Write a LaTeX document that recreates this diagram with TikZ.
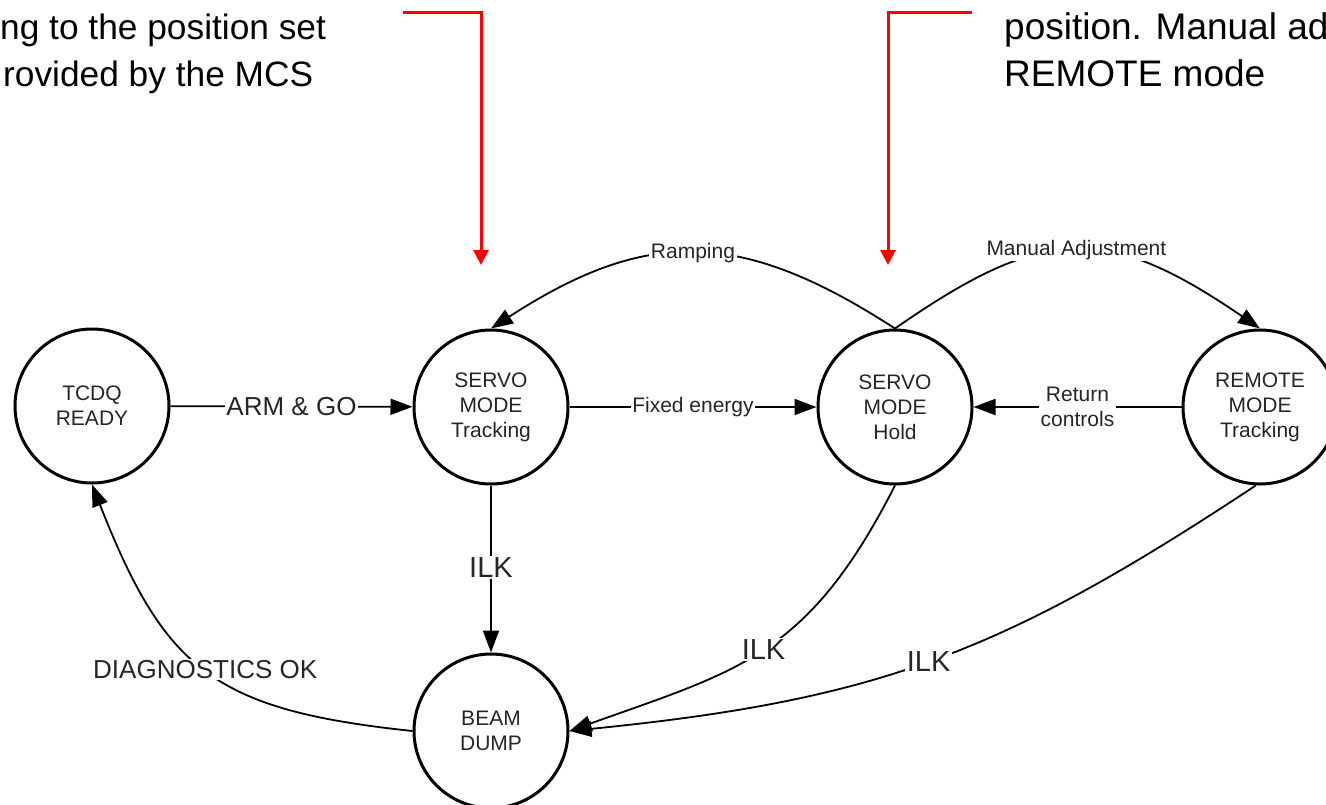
\documentclass[tikz,border=0pt]{standalone}
\usepackage{fontspec}
\setmainfont{Liberation Sans}
\usetikzlibrary{arrows.meta}
\begin{document}
\begin{tikzpicture}[x=1pt,y=-1pt,
  state/.style={circle, draw=black, line width=3pt, minimum size=154pt, inner sep=0pt,
    align=center, text=black!85, font=\fontsize{21}{25}\selectfont},
  trans/.style={draw=black, line width=1.8pt, -{Triangle[length=22pt,width=16pt]}},
  lbl/.style={fill=white, inner sep=1.5pt, text=black!85, align=center,
    font=\fontsize{21}{25}\selectfont},
  biglbl/.style={lbl, font=\fontsize{26}{30}\selectfont},
  ilklbl/.style={lbl, font=\fontsize{29}{32}\selectfont},
  note/.style={draw=red, line width=3pt, -{Triangle[length=15pt,width=15pt]}},
  notetext/.style={inner sep=0pt, text=black, font=\fontsize{37}{44}\selectfont},
  notetextl/.style={notetext, font=\fontsize{35.3}{44}\selectfont}
]
\fill[white] (0,0) rectangle (1326,804);
\clip (0,0) rectangle (1326,804);

% explanatory text at the top
\node[notetextl, anchor=base west] (nl1) at (0,39) {ng to the position set};
\node[notetextl, anchor=base west] (nl2) at (3,86) {rovided by the MCS};
\node[notetext, anchor=base west] (nr1) at (1004,39) {position. Manual ad};
\node[notetext, anchor=base west] (nr2) at (1004,86) {REMOTE mode};

% states
\node[state] (tcdq)   at (92,406)   {TCDQ\\READY};
\node[state] (trk)    at (491,407)  {SERVO\\MODE\\Tracking};
\node[state] (hold)   at (895,407)  {SERVO\\MODE\\Hold};
\node[state] (remote) at (1260,407) {REMOTE\\MODE\\Tracking};
\node[state] (dump)   at (491,731)  {BEAM\\DUMP};

% red pointers from the text to the servo states
\coordinate (pl) at (403,12);
\coordinate (plc) at (481,12);
\coordinate (plt) at (481,265);
\coordinate (pr) at (972,12);
\coordinate (prc) at (888,12);
\coordinate (prt) at (888,265);
\draw[note] (pl) -- (plc) -- (plt);
\draw[note] (pr) -- (prc) -- (prt);

% transitions
\draw[trans] (tcdq) -- node[biglbl] {ARM \& GO} (trk);
\draw[trans] (trk) -- node[lbl] {Fixed energy} (hold);
\draw[trans] (remote) -- node[lbl] {Return\\controls} (hold);
\draw[trans] (trk) -- node[ilklbl, pos=0.49] {ILK} (dump);

\draw[trans] (hold.north) .. controls (740,228) and (646,228) .. (trk.north)
  node[lbl, pos=0.5] {Ramping};
\draw[trans] (hold.north) .. controls (1045,224) and (1107,224) .. (remote.north)
  node[lbl, pos=0.5] {Manual Adjustment};

\draw[trans] (hold.south) .. controls (808,656) and (740,670) .. (dump.east)
  node[ilklbl, pos=0.5] {ILK};
\draw[trans] (remote.267) .. controls (1004,652) and (880,700) .. (dump.east)
  node[ilklbl, pos=0.51] {ILK};

\draw[trans] (dump.west) .. controls (214,710) and (165,670) .. (tcdq.south)
  node[biglbl, pos=0.5] {DIAGNOSTICS OK};
\end{tikzpicture}
\end{document}
